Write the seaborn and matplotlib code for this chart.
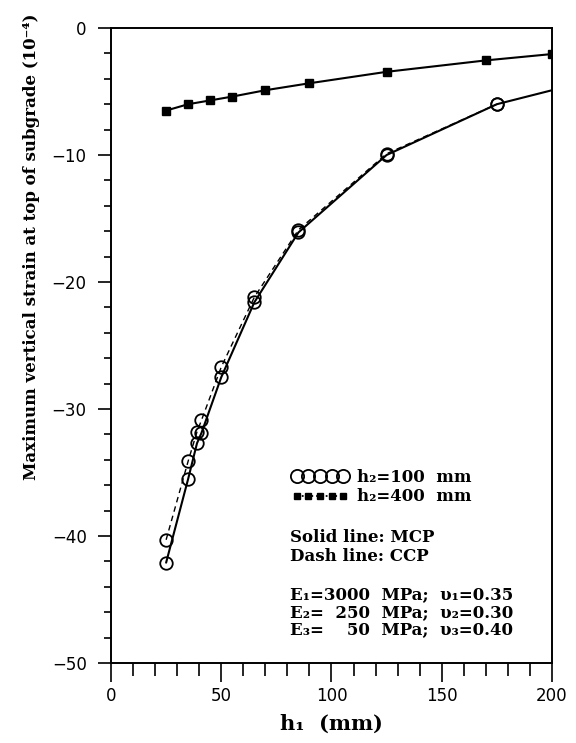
import matplotlib
matplotlib.use("Agg")
import matplotlib.pyplot as plt
import seaborn as sns
import pandas as pd
from matplotlib.lines import Line2D
from matplotlib.ticker import MultipleLocator

# ---- data ----
h1_mcp = [25, 35, 39, 41, 50, 65, 85, 125, 175, 200]
strain_mcp = [-42.1, -35.5, -32.7, -31.9, -27.5, -21.6, -16.1, -10.0, -6.0, -4.9]
h1_ccp = [25, 35, 39, 41, 50, 65, 85, 125, 175]
strain_ccp = [-40.3, -34.1, -31.8, -30.9, -26.7, -21.2, -15.9, -9.9, -6.0]
h1_400 = [25, 35, 45, 55, 70, 90, 125, 170, 200]
strain_400 = [-6.5, -6.0, -5.7, -5.4, -4.9, -4.35, -3.45, -2.55, -2.05]

legend_labels = ["h\u2082=100  mm", "h\u2082=400  mm"]
note1 = ["Solid line: MCP", "Dash line: CCP"]
note2 = ["E\u2081=3000  MPa;  \u03c5\u2081=0.35",
         "E\u2082=  250  MPa;  \u03c5\u2082=0.30",
         "E\u2083=    50  MPa;  \u03c5\u2083=0.40"]

sns.set_style("ticks")
plt.rcParams["font.family"] = ["DejaVu Serif"]
plt.rcParams["text.color"] = "black"
plt.rcParams["axes.labelcolor"] = "black"
plt.rcParams["xtick.color"] = "black"
plt.rcParams["ytick.color"] = "black"

fig = plt.figure(figsize=(5.76, 7.43), dpi=100)
ax = fig.add_axes([0.1927, 0.1077, 0.7656, 0.8546])

df_mcp = pd.DataFrame({"h1": h1_mcp, "strain": strain_mcp})
df_ccp = pd.DataFrame({"h1": h1_ccp, "strain": strain_ccp})
df_400 = pd.DataFrame({"h1": h1_400, "strain": strain_400})

sns.lineplot(data=df_mcp, x="h1", y="strain", ax=ax, color="black", lw=1.5,
             marker="o", markersize=9, markerfacecolor="none",
             markeredgecolor="black", markeredgewidth=1.3,
             markevery=list(range(len(h1_mcp) - 1)), sort=False, estimator=None)
sns.lineplot(data=df_ccp, x="h1", y="strain", ax=ax, color="black", lw=1.0,
             linestyle=(0, (4, 3)),
             marker="o", markersize=9, markerfacecolor="none",
             markeredgecolor="black", markeredgewidth=1.3,
             sort=False, estimator=None)
sns.lineplot(data=df_400, x="h1", y="strain", ax=ax, color="black", lw=1.5,
             marker="s", markersize=6, markerfacecolor="black",
             markeredgecolor="black", markeredgewidth=1,
             sort=False, estimator=None)

ax.set_xlim(0, 200)
ax.set_ylim(-50, 0)
ax.xaxis.set_major_locator(MultipleLocator(50))
ax.xaxis.set_minor_locator(MultipleLocator(10))
ax.yaxis.set_major_locator(MultipleLocator(10))
ax.yaxis.set_minor_locator(MultipleLocator(2))

for s in ax.spines.values():
    s.set_linewidth(1.4)
    s.set_color("black")
    s.set_visible(True)

ax.tick_params(axis="x", which="major", direction="out", length=14, width=1.2,
               pad=3, labelsize=12, color="black", labelcolor="black")
ax.tick_params(axis="x", which="minor", direction="out", length=9.5, width=1.2,
               color="black")
ax.tick_params(axis="y", which="major", direction="out", length=9.5, width=1.2,
               pad=8, labelsize=12, color="black", labelcolor="black")
ax.tick_params(axis="y", which="minor", direction="out", length=5, width=1.2,
               color="black")
for lab in ax.get_xticklabels() + ax.get_yticklabels():
    lab.set_family("DejaVu Sans")

ax.set_xlabel("h\u2081  (mm)", fontsize=15, fontweight="bold",
              family="DejaVu Serif", color="black")
ax.set_ylabel("Maximum vertical strain at top of subgrade (10\u207b\u2074)",
              fontsize=12, fontweight="bold", family="DejaVu Serif",
              color="black")
ax.yaxis.set_label_coords(-0.16, 0.655)
ax.xaxis.set_label_coords(0.5, -0.08)

h_c = Line2D([], [], ls="none", marker="o", markerfacecolor="none",
             markeredgecolor="black", markersize=9.5, markeredgewidth=1.3)
h_s = Line2D([], [], ls=":", color="black", lw=1.3, marker="s", markersize=5,
             markerfacecolor="black", markeredgecolor="black")
leg = ax.legend([h_c, h_s], legend_labels, numpoints=5, loc="center left",
                bbox_to_anchor=(0.41, 0.277), frameon=False, handlelength=3.4,
                handletextpad=0.5, labelspacing=0.15, borderpad=0,
                borderaxespad=0,
                prop=dict(family="DejaVu Serif", weight="bold", size=12))
for t in leg.get_texts():
    t.set_color("black")

ys1 = [0.197, 0.167]
for t, y in zip(note1, ys1):
    ax.text(0.406, y, t, transform=ax.transAxes, fontsize=12, fontweight="bold",
            va="center", ha="left", color="black")
ys2 = [0.107, 0.079, 0.052]
for t, y in zip(note2, ys2):
    ax.text(0.406, y, t, transform=ax.transAxes, fontsize=12, fontweight="bold",
            va="center", ha="left", color="black")

fig.savefig("out.png", dpi=100)
